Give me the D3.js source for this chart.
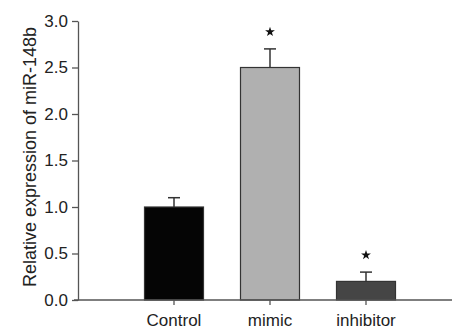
<!DOCTYPE html>
<html><head><meta charset="utf-8">
<script src="https://cdn.jsdelivr.net/npm/d3@7"></script>
<style>body{margin:0;background:#fff}svg{display:block}</style>
</head><body>
<script>
const categories = ["Control", "mimic", "inhibitor"];
const values = [1.0, 2.5, 0.2];
const errors = [0.1, 0.2, 0.1];
const significant = [false, true, true];
const yTicks = [0, 0.5, 1.0, 1.5, 2.0, 2.5, 3.0];
const colors = ["#050505", "#b0b0b0", "#454545"];

const W = 452, H = 329;
const svg = d3.select("body").append("svg").attr("width", W).attr("height", H)
  .style("font-family", "'Liberation Sans', Arial, sans-serif");

const y = d3.scaleLinear().domain([0, 3]).range([300, 21]);
const x = d3.scaleLinear().domain([0, 4]).range([78, 462]);
const bw = 59;
const axisColor = "#555";

// y axis
const yAxis = svg.append("g").attr("transform", "translate(78,0)")
  .call(d3.axisLeft(y).tickValues(yTicks).tickFormat(d3.format(".1f")).tickSize(6).tickSizeOuter(0));
yAxis.select(".domain").attr("stroke", axisColor).attr("stroke-width", 1.3);
yAxis.selectAll(".tick line").attr("stroke", axisColor).attr("stroke-width", 1.3);
yAxis.selectAll(".tick text").attr("font-size", 17).attr("fill", "#222").attr("x", -10)
  .attr("font-family", "'Liberation Sans', Arial, sans-serif");

// bars
svg.selectAll("rect.bar").data(values).enter().append("rect")
  .attr("x", (d, i) => x(i + 1) - bw / 2)
  .attr("y", d => y(d))
  .attr("width", bw)
  .attr("height", d => y(0) - y(d))
  .attr("fill", (d, i) => colors[i])
  .attr("stroke", "#333").attr("stroke-width", 1.2);

// error bars (upper only)
values.forEach((v, i) => {
  const cx = x(i + 1);
  svg.append("line").attr("x1", cx).attr("x2", cx).attr("y1", y(v)).attr("y2", y(v + errors[i]))
    .attr("stroke", "#333").attr("stroke-width", 1.5);
  svg.append("line").attr("x1", cx - 6).attr("x2", cx + 6).attr("y1", y(v + errors[i])).attr("y2", y(v + errors[i]))
    .attr("stroke", "#333").attr("stroke-width", 1.5);
  if (significant[i]) {
    svg.append("path").attr("d", d3.symbol().type(d3.symbolStar).size(30)())
      .attr("transform", `translate(${cx},${y(v + errors[i]) - 17})`)
      .attr("fill", "#111");
  }
});

// x axis
const xAxis = svg.append("g").attr("transform", `translate(0,${y(0)})`);
xAxis.append("line").attr("x1", 74).attr("x2", W).attr("y1", 0).attr("y2", 0)
  .attr("stroke", axisColor).attr("stroke-width", 1.3);
categories.forEach((c, i) => {
  xAxis.append("line").attr("x1", x(i + 1)).attr("x2", x(i + 1)).attr("y1", 0).attr("y2", 5)
    .attr("stroke", axisColor).attr("stroke-width", 1.3);
  xAxis.append("text").attr("x", x(i + 1)).attr("y", 26).attr("text-anchor", "middle")
    .attr("font-size", 17).attr("fill", "#222").text(c);
});

// y label
svg.append("text").attr("transform", "translate(36,157) rotate(-90)")
  .attr("text-anchor", "middle").attr("font-size", 18).attr("fill", "#222")
  .text("Relative expression of miR-148b");
</script>
</body></html>
